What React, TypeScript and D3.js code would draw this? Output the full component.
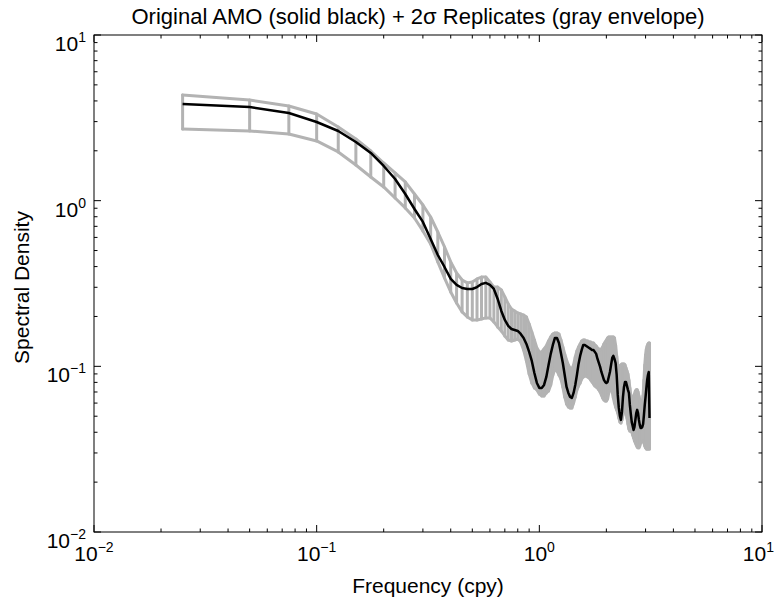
import React from 'react';
import * as d3 from 'd3';

const FREQ = [
  0.025, 0.05, 0.075, 0.1, 0.125, 0.15, 0.175, 0.2, 0.225, 0.25,
  0.275, 0.3, 0.325, 0.35, 0.375, 0.4, 0.425, 0.45, 0.475, 0.5,
  0.525, 0.55, 0.575, 0.6, 0.625, 0.65, 0.675, 0.7, 0.725, 0.75,
  0.775, 0.8, 0.825, 0.85, 0.875, 0.9, 0.925, 0.95, 0.975, 1.0,
  1.025, 1.05, 1.075, 1.1, 1.125, 1.15, 1.175, 1.2, 1.225, 1.25,
  1.275, 1.3, 1.325, 1.35, 1.375, 1.4, 1.425, 1.45, 1.475, 1.5,
  1.525, 1.55, 1.575, 1.6, 1.625, 1.65, 1.675, 1.7, 1.725, 1.75,
  1.775, 1.8, 1.825, 1.85, 1.875, 1.9, 1.925, 1.95, 1.975, 2.0,
  2.025, 2.05, 2.075, 2.1, 2.125, 2.15, 2.175, 2.2, 2.225, 2.25,
  2.275, 2.3, 2.325, 2.35, 2.375, 2.4, 2.425, 2.45, 2.475, 2.5,
  2.525, 2.55, 2.575, 2.6, 2.625, 2.65, 2.675, 2.7, 2.725, 2.75,
  2.775, 2.8, 2.825, 2.85, 2.875, 2.9, 2.925, 2.95, 2.975, 3.0,
  3.025, 3.05, 3.075, 3.1, 3.125,
];

const ORIGINAL = [
  3.833, 3.677, 3.383, 2.985, 2.634, 2.261, 1.941, 1.62, 1.352, 1.097,
  0.891, 0.744, 0.587, 0.47, 0.398, 0.337, 0.31, 0.297, 0.293, 0.293,
  0.301, 0.314, 0.319, 0.31, 0.293, 0.255, 0.216, 0.1905, 0.1753, 0.1681,
  0.1658, 0.1635, 0.1568, 0.1484, 0.1365, 0.1222, 0.1078, 0.0912, 0.0794, 0.0741,
  0.0741, 0.0772, 0.0863, 0.102, 0.1189, 0.1346, 0.1484, 0.1484, 0.1384, 0.1205,
  0.1048, 0.0887, 0.0751, 0.0691, 0.0654, 0.0645, 0.0691, 0.0772, 0.0887, 0.1034,
  0.1156, 0.1256, 0.1346, 0.1346, 0.1327, 0.1309, 0.1291, 0.1274, 0.1256, 0.1256,
  0.1222, 0.1189, 0.1108, 0.1048, 0.0992, 0.0925, 0.0875, 0.0828, 0.0805, 0.0794,
  0.0805, 0.0863, 0.0925, 0.102, 0.1124, 0.1156, 0.1108, 0.1048, 0.0887, 0.0672,
  0.0561, 0.0502, 0.0475, 0.0531, 0.0654, 0.0751, 0.0805, 0.0805, 0.0762, 0.0721,
  0.0691, 0.0585, 0.0516, 0.0462, 0.0437, 0.0413, 0.0431, 0.0475, 0.0523, 0.0546,
  0.0523, 0.0475, 0.0443, 0.0425, 0.0425, 0.0431, 0.0449, 0.0509, 0.0585, 0.0654,
  0.0741, 0.0828, 0.0887, 0.0925, 0.0488,
];

const UPPER = [
  4.345, 4.053, 3.728, 3.336, 2.785, 2.357, 1.994, 1.688, 1.47, 1.297,
  1.097, 0.942, 0.797, 0.647, 0.526, 0.427, 0.366, 0.332, 0.319, 0.323,
  0.337, 0.346, 0.346, 0.323, 0.301, 0.301, 0.289, 0.262, 0.238, 0.222,
  0.216, 0.21, 0.207, 0.204, 0.1987, 0.1803, 0.1613, 0.1443, 0.1291, 0.1222,
  0.1222, 0.1274, 0.1327, 0.1423, 0.1504, 0.1568, 0.1591, 0.1591, 0.1568, 0.1443,
  0.1309, 0.1189, 0.1093, 0.102, 0.0978, 0.0965, 0.102, 0.1139, 0.1239, 0.1309,
  0.1365, 0.1423, 0.1443, 0.1443, 0.1423, 0.1423, 0.1404, 0.1404, 0.1384, 0.1384,
  0.1346, 0.1327, 0.1291, 0.1274, 0.1256, 0.1274, 0.1309, 0.1365, 0.1404, 0.1443,
  0.1484, 0.1504, 0.1504, 0.1504, 0.1504, 0.1504, 0.1484, 0.1346, 0.1156, 0.102,
  0.0992, 0.1006, 0.102, 0.1034, 0.1034, 0.1034, 0.102, 0.0978, 0.0938, 0.09,
  0.0828, 0.0741, 0.0672, 0.0636, 0.0627, 0.0654, 0.0681, 0.071, 0.0721, 0.0721,
  0.0701, 0.0663, 0.0627, 0.061, 0.0601, 0.061, 0.0672, 0.0828, 0.102, 0.1172,
  0.1274, 0.1327, 0.1365, 0.1384, 0.1384,
];

const LOWER = [
  2.708, 2.634, 2.526, 2.293, 1.968, 1.642, 1.39, 1.21, 1.038, 0.904,
  0.786, 0.656, 0.548, 0.427, 0.342, 0.281, 0.241, 0.213, 0.1987, 0.1905,
  0.1905, 0.1932, 0.196, 0.196, 0.1853, 0.1729, 0.1635, 0.1526, 0.1443, 0.1423,
  0.1443, 0.1463, 0.1404, 0.1256, 0.1078, 0.09, 0.0794, 0.0741, 0.0721, 0.0681,
  0.0663, 0.0663, 0.0691, 0.071, 0.0772, 0.0887, 0.0965, 0.0938, 0.0887, 0.0839,
  0.0751, 0.0654, 0.0593, 0.0569, 0.0561, 0.0561, 0.0601, 0.0654, 0.0721, 0.0762,
  0.0794, 0.0839, 0.0863, 0.0875, 0.0875, 0.0863, 0.0851, 0.0828, 0.0805, 0.0783,
  0.0762, 0.0751, 0.0741, 0.0721, 0.0701, 0.0672, 0.0645, 0.0627, 0.0618, 0.0618,
  0.0636, 0.0691, 0.0731, 0.0741, 0.0701, 0.0645, 0.0601, 0.0569, 0.0546, 0.0523,
  0.0488, 0.0462, 0.0455, 0.0475, 0.0509, 0.0538, 0.0546, 0.0531, 0.0488, 0.0449,
  0.0419, 0.0407, 0.0407, 0.0402, 0.0385, 0.037, 0.0355, 0.0345, 0.0335, 0.0326,
  0.0322, 0.0322, 0.0331, 0.0345, 0.035, 0.0355, 0.0355, 0.0345, 0.0331, 0.0322,
  0.0317, 0.0317, 0.0317, 0.0317, 0.0317,
];

const DECADES = [0.01, 0.1, 1, 10];
const DECADE_EXP = ['\u22122', '\u22121', '0', '1'];
const MINOR_MULT = [2, 3, 4, 5, 6, 7, 8, 9];
const TITLE = 'Original AMO (solid black) + 2\u03c3 Replicates (gray envelope)';
const X_LABEL = 'Frequency (cpy)';
const Y_LABEL = 'Spectral Density';

const FONT = '"Liberation Sans", Arial, Helvetica, sans-serif';
const GRAY = '#b3b3b3';

export default function App() {
  const W = 776;
  const H = 602;
  const L = 94, R = 762, T = 35, B = 532;
  const x = d3.scaleLog().domain([0.01, 10]).range([L, R]);
  const y = d3.scaleLog().domain([0.01, 10]).range([B, T]);

  const lineGen = d3
    .line<number>()
    .x((_, i) => x(FREQ[i]))
    .y((d) => y(d));

  const minors: number[] = [];
  DECADES.slice(0, 3).forEach((d) => MINOR_MULT.forEach((m) => minors.push(d * m)));

  const majorLen = 7;
  const minorLen = 3.5;

  return (
    <svg
      width={W}
      height={H}
      viewBox={`0 0 ${W} ${H}`}
      style={{ position: 'absolute', left: 0, top: 0, background: '#fff' }}
      fontFamily={FONT}
    >
      <rect x={0} y={0} width={W} height={H} fill="#fff" />
      <g stroke={GRAY} strokeWidth={3} strokeLinecap="round">
        {FREQ.map((f, i) => (
          <line key={i} x1={x(f)} x2={x(f)} y1={y(LOWER[i])} y2={y(UPPER[i])} />
        ))}
      </g>
      <path d={lineGen(UPPER) || ''} fill="none" stroke={GRAY} strokeWidth={3} strokeLinejoin="round" strokeLinecap="round" />
      <path d={lineGen(LOWER) || ''} fill="none" stroke={GRAY} strokeWidth={3} strokeLinejoin="round" strokeLinecap="round" />
      <path d={lineGen(ORIGINAL) || ''} fill="none" stroke="#000" strokeWidth={2.5} strokeLinejoin="round" />

      <rect x={L} y={T} width={R - L} height={B - T} fill="none" stroke="#000" strokeWidth={1} />
      <g stroke="#000" strokeWidth={1}>
        {DECADES.map((d, i) => (
          <g key={'mx' + i}>
            <line x1={x(d)} x2={x(d)} y1={B} y2={B - majorLen} />
            <line x1={x(d)} x2={x(d)} y1={T} y2={T + majorLen} />
            <line x1={L} x2={L + majorLen} y1={y(d)} y2={y(d)} />
            <line x1={R} x2={R - majorLen} y1={y(d)} y2={y(d)} />
          </g>
        ))}
        {minors.map((d, i) => (
          <g key={'mn' + i}>
            <line x1={x(d)} x2={x(d)} y1={B} y2={B - minorLen} />
            <line x1={x(d)} x2={x(d)} y1={T} y2={T + minorLen} />
            <line x1={L} x2={L + minorLen} y1={y(d)} y2={y(d)} />
            <line x1={R} x2={R - minorLen} y1={y(d)} y2={y(d)} />
          </g>
        ))}
      </g>

      {DECADES.map((d, i) => {
        const last = i === DECADES.length - 1;
        return (
          <text
            key={'xl' + i}
            x={last ? W - 2 : x(d)}
            y={B + 29}
            textAnchor={last ? 'end' : 'middle'}
            fontSize={21}
            fill="#000"
          >
            10<tspan dy={-9} fontSize={14}>{DECADE_EXP[i]}</tspan>
          </text>
        );
      })}
      {DECADES.map((d, i) => (
        <text key={'yl' + i} x={L - 8} y={y(d) + 16} textAnchor="end" fontSize={21} fill="#000">
          10<tspan dy={-9} fontSize={14}>{DECADE_EXP[i]}</tspan>
        </text>
      ))}

      <text x={(L + R) / 2 - 10} y={24} textAnchor="middle" fontSize={22} fill="#000">
        {TITLE}
      </text>
      <text x={(L + R) / 2} y={593} textAnchor="middle" fontSize={21} fill="#000">
        {X_LABEL}
      </text>
      <text
        transform={`translate(29, ${(T + B) / 2 + 4}) rotate(-90)`}
        textAnchor="middle"
        fontSize={21}
        fill="#000"
      >
        {Y_LABEL}
      </text>
    </svg>
  );
}
